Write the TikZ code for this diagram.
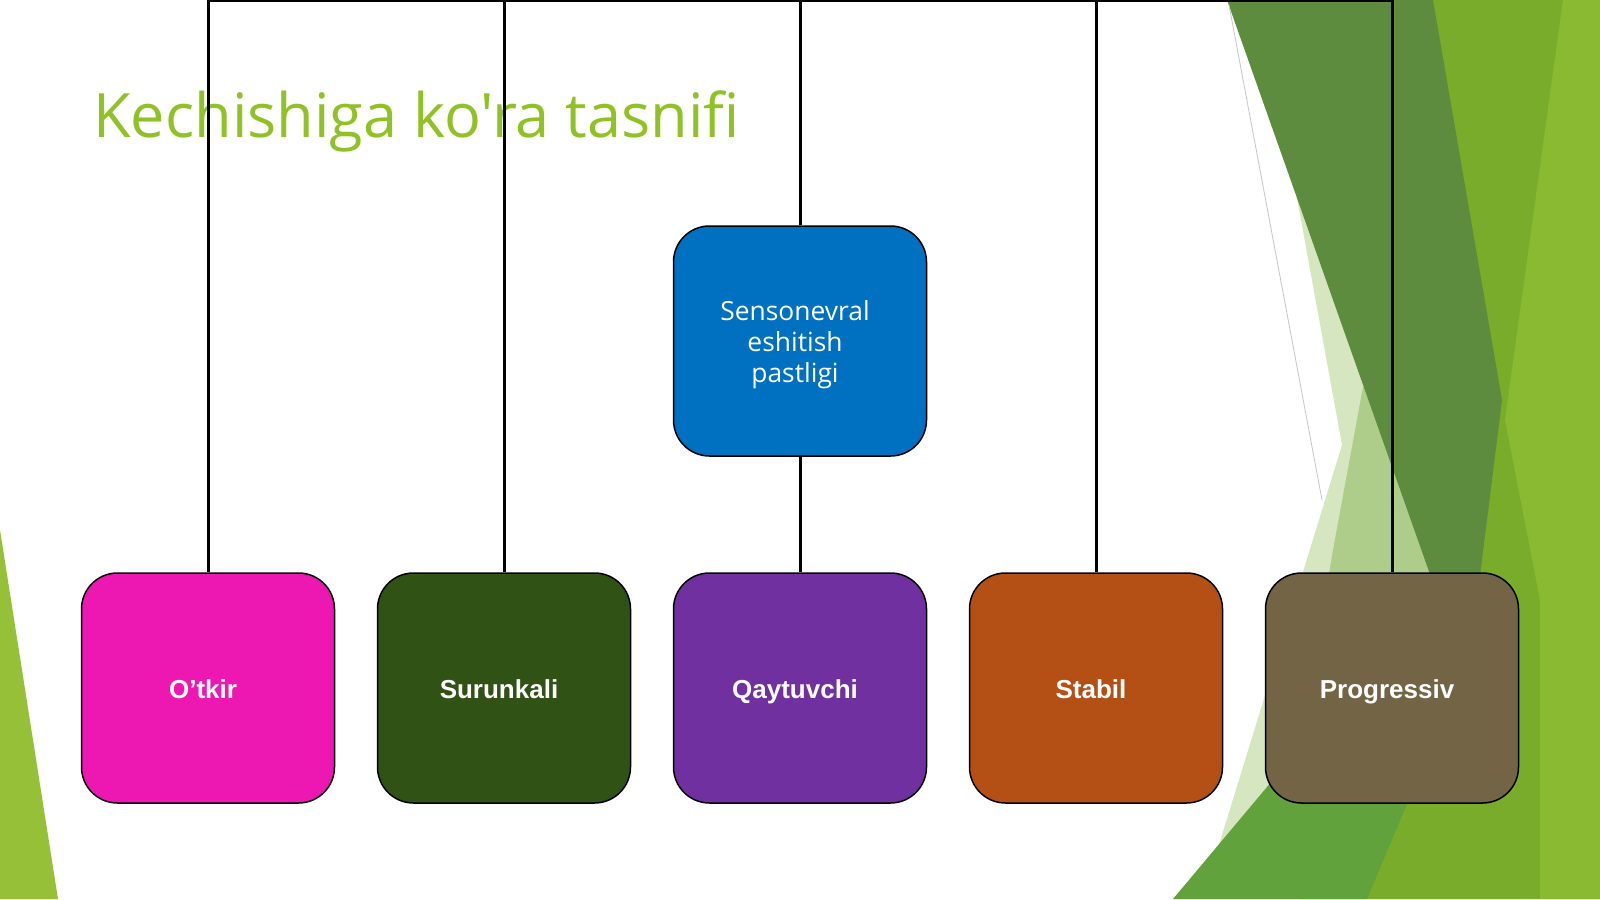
\documentclass[tikz,border=0pt]{standalone}
\usepackage{fontspec}
\setmainfont{Open Sans}
\newfontfamily\titlefont{Open Sans}[Ligatures=TeXOff]
\newfontfamily\boxfont{Liberation Sans}
\usetikzlibrary{calc}

\definecolor{titlegreen}{RGB}{144,194,38}
\definecolor{facetlime}{RGB}{150,192,55}
\definecolor{facetlight}{RGB}{120,172,42}
\definecolor{facetyellow}{RGB}{138,186,50}
\definecolor{facetpale}{RGB}{214,230,192}
\definecolor{facetmidlight}{RGB}{174,204,138}
\definecolor{facetmid}{RGB}{98,162,60}
\definecolor{facetdark}{RGB}{94,140,62}
\definecolor{sensblue}{RGB}{0,112,192}
\definecolor{otkirpink}{RGB}{237,24,178}
\definecolor{surunkaligreen}{RGB}{48,82,20}
\definecolor{qaytuvchipurple}{RGB}{112,48,160}
\definecolor{stabilorange}{RGB}{180,80,22}
\definecolor{progressivbrown}{RGB}{114,100,68}

\tikzset{
leaf/.style={draw=black, line width=.75pt, rounded corners=18pt, minimum width=126.5pt, minimum height=115pt, inner sep=0pt, text=white, text height=10pt, text depth=0pt, execute at begin node=\hspace*{-5pt}, font=\boxfont\bfseries\fontsize{13}{15}\selectfont},
link/.style={black, line width=1.5pt},
}

\begin{document}
\begin{tikzpicture}[x=.5pt, y=-.5pt]
\useasboundingbox (0,0) rectangle (1600,899);
\clip (0,0) rectangle (1600,899);
\fill[white] (0,0) rectangle (1600,899);

% facets of the background
\fill[facetlime] (0,530) -- (58,899) -- (0,899) -- cycle;
\fill[facetlight] (1420,0) -- (1600,0) -- (1600,899) -- (1300,899) -- (1400,650) -- cycle;
\fill[facetyellow] (1563,0) -- (1600,0) -- (1600,899) -- (1540,899) -- (1540,600) -- (1505,420) -- cycle;
\fill[facetpale] (1297,198) -- (1342,445) -- (1218,848) -- (1330,760) -- (1420,420) -- cycle;
\fill[facetmidlight] (1363,387) -- (1333,550) -- (1308,700) -- (1430,700) -- (1430,387) -- cycle;
\fill[facetmid] (1173,899) -- (1367,899) -- (1455,690) -- (1340,700) -- cycle;
\fill[facetdark] (1227,0) -- (1433,0) -- (1502,400) -- (1467,679) -- cycle;
\draw[gray!45, line width=.4pt] (1229,5) -- (1322,500);

\node[anchor=base west, inner sep=0pt, text=titlegreen, font=\titlefont\fontsize{30.6}{36}\selectfont] (title) at (93,137) {Kechishiga ko'ra tasnifi};

\node[leaf, fill=sensblue, align=center, text height=, text depth=, execute at begin node=, font=\fontsize{13.2}{15.5}\selectfont] (sens) at (800,341) {\rule{0pt}{14pt}Sensonevral\\eshitish\\pastligi};

\foreach \name/\txt/\col [count=\i from 0] in {otkir/O’tkir/otkirpink, surunkali/Surunkali/surunkaligreen, qaytuvchi/Qaytuvchi/qaytuvchipurple, stabil/Stabil/stabilorange, progressiv/Progressiv/progressivbrown}
\node[leaf, fill=\col] (\name) at ({800+296*(\i-2)},688) {\txt};

\coordinate (hub) at (800,1);
\draw[link] (sens.north) -- (hub);
\foreach \name in {otkir, surunkali, stabil, progressiv}
\draw[link] (hub) -| (\name.north);
\draw[link] (sens.south) -- (qaytuvchi.north);

\end{tikzpicture}
\end{document}
